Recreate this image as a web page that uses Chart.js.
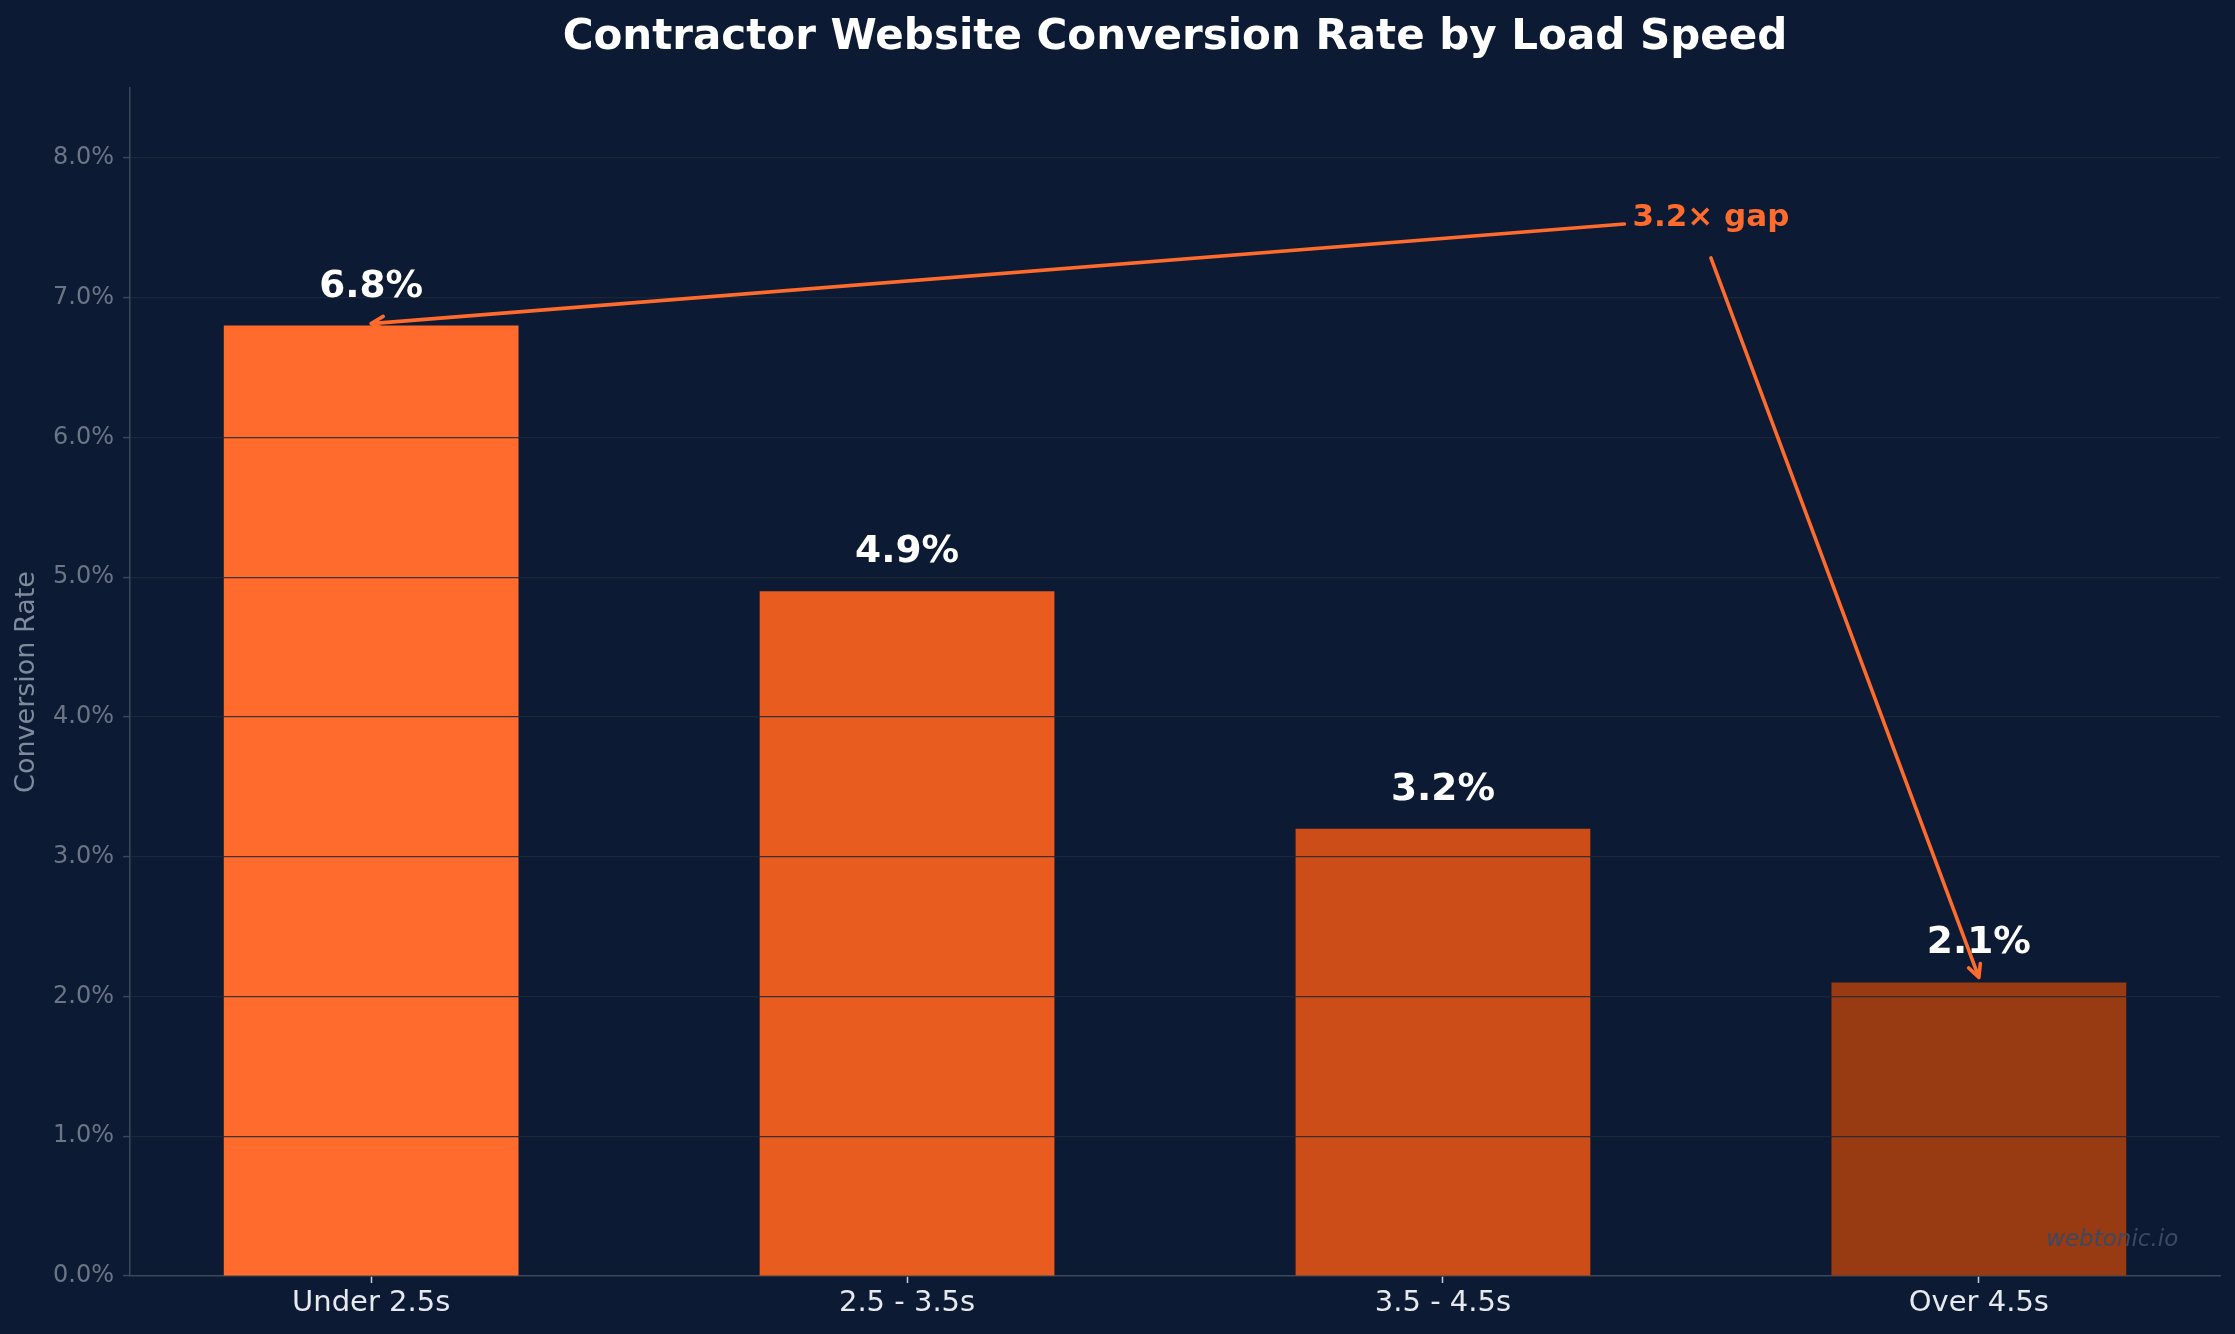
<!DOCTYPE html>
<html lang="en">
<head>
<meta charset="UTF-8">
<title>Contractor Website Conversion Rate by Load Speed</title>
<script src="https://cdn.jsdelivr.net/npm/chart.js@4.4.1/dist/chart.umd.min.js"></script>
<style>
    html, body {
        margin: 0;
        padding: 0;
        background: #0c1b33;
    }

    #wrap {
        width: 2235px;
        height: 1334px;
    }
</style>
</head>
<body>
<div id="wrap"><canvas id="chart"></canvas></div>

<script>
    // data
    const categories = ['Under 2.5s', '2.5 - 3.5s', '3.5 - 4.5s', 'Over 4.5s'];
    const conversionRates = [6.8, 4.9, 3.2, 2.1];
    const yTicks = [0, 1, 2, 3, 4, 5, 6, 7, 8];
    const gapLabel = '3.2× gap';
    const gapLabelAt = [2.5, 7.57];   // data coords of the annotation text
    const gapTargets = [0, 3];        // bars the arrows point to

    const barColors = ['#ff6b2c', '#e85c20', '#cc4d17', '#983a12'];
    const FONT = "'DejaVu Sans', sans-serif";
    const BG = '#0c1b33';
    const AXIS = '#3b4658';
    const ACCENT = '#ff6b2c';

    function drawArrow(ctx, x1, y1, x2, y2) {
        const ang = Math.atan2(y2 - y1, x2 - x1);
        const len = 14, spread = 0.46;
        ctx.beginPath();
        ctx.moveTo(x1, y1);
        ctx.lineTo(x2, y2);
        ctx.moveTo(x2 - len * Math.cos(ang - spread), y2 - len * Math.sin(ang - spread));
        ctx.lineTo(x2, y2);
        ctx.lineTo(x2 - len * Math.cos(ang + spread), y2 - len * Math.sin(ang + spread));
        ctx.stroke();
    }

    const background = {
        id: 'background',
        beforeDraw(chart) {
            const ctx = chart.ctx;
            ctx.save();
            ctx.fillStyle = BG;
            ctx.fillRect(0, 0, chart.width, chart.height);
            ctx.restore();
        }
    };

    const overlay = {
        id: 'overlay',
        afterDraw(chart) {
            const ctx = chart.ctx;
            const xs = chart.scales.x, ys = chart.scales.y;
            const area = chart.chartArea;
            ctx.save();

            // value labels above bars
            ctx.fillStyle = '#ffffff';
            ctx.font = `bold 37.5px ${FONT}`;
            ctx.textAlign = 'center';
            ctx.textBaseline = 'alphabetic';
            chart.getDatasetMeta(0).data.forEach((bar, i) => {
                ctx.fillText(conversionRates[i].toFixed(1) + '%', bar.x, bar.y - 29);
            });

            // gap annotation
            const tx = xs.getPixelForValue(gapLabelAt[0]);
            const ty = ys.getPixelForValue(gapLabelAt[1]);
            ctx.font = `bold 31px ${FONT}`;
            ctx.textBaseline = 'middle';
            ctx.fillStyle = ACCENT;
            ctx.fillText(gapLabel, tx, ty);
            const w = ctx.measureText(gapLabel).width;

            ctx.strokeStyle = ACCENT;
            ctx.lineWidth = 3.6;
            ctx.lineCap = 'round';
            ctx.lineJoin = 'round';
            const t0 = gapTargets[0], t1 = gapTargets[1];
            drawArrow(ctx, tx - w / 2 - 8, ty + 6,
                xs.getPixelForValue(t0), ys.getPixelForValue(conversionRates[t0]) - 2);
            drawArrow(ctx, tx, ty + 40,
                xs.getPixelForValue(t1), ys.getPixelForValue(conversionRates[t1]) - 5);

            // watermark
            ctx.font = `italic 23px ${FONT}`;
            ctx.fillStyle = '#3a4a62';
            ctx.textAlign = 'right';
            ctx.textBaseline = 'middle';
            ctx.fillText('webtonic.io',
                area.left + 0.98 * (area.right - area.left),
                area.bottom - 0.03 * (area.bottom - area.top));

            ctx.restore();
        }
    };

    new Chart(document.getElementById('chart'), {
        type: 'bar',
        data: {
            datasets: [{
                data: conversionRates.map((v, i) => ({ x: i, y: v })),
                backgroundColor: barColors,
                borderWidth: 0,
                barPercentage: 0.55,
                categoryPercentage: 1
            }]
        },
        options: {
            responsive: true,
            maintainAspectRatio: false,
            animation: false,
            layout: { padding: { left: 0, right: 15, top: 0, bottom: 0 } },
            plugins: {
                legend: { display: false },
                tooltip: { enabled: false },
                title: {
                    display: true,
                    fullSize: false,
                    text: 'Contractor Website Conversion Rate by Load Speed',
                    color: '#ffffff',
                    font: { family: FONT, size: 42, weight: 'bold' },
                    padding: { top: 13, bottom: 24.6 }
                }
            },
            scales: {
                x: {
                    type: 'linear',
                    min: -0.45,
                    max: 3.45,
                    offset: false,
                    afterBuildTicks: s => { s.ticks = categories.map((_, i) => ({ value: i })); },
                    afterFit: s => { s.height = 58; },
                    ticks: {
                        callback: v => categories[v],
                        color: '#e6e9ee',
                        font: { family: FONT, size: 29 },
                        padding: 3,
                        maxRotation: 0,
                        autoSkip: false
                    },
                    grid: {
                        offset: false,
                        drawOnChartArea: false,
                        drawTicks: true,
                        tickLength: 7,
                        tickColor: '#c8ced8',
                        tickWidth: 1.5
                    },
                    border: { color: AXIS, width: 1.5 }
                },
                y: {
                    min: 0,
                    max: 8.5,
                    afterBuildTicks: s => { s.ticks = yTicks.map(v => ({ value: v })); },
                    afterFit: s => { s.width = 130; },
                    ticks: {
                        callback: v => v.toFixed(1) + '%',
                        color: '#6b7585',
                        font: { family: FONT, size: 24 },
                        padding: 9
                    },
                    grid: {
                        z: 1,
                        color: c => (c.tick && c.tick.value === 0) ? 'rgba(0,0,0,0)' : 'rgba(30,41,59,0.85)',
                        lineWidth: 1.2,
                        tickLength: 7,
                        tickColor: AXIS,
                        tickWidth: 1.5
                    },
                    border: { color: AXIS, width: 1.5, z: 1 },
                    title: {
                        display: true,
                        text: 'Conversion Rate',
                        color: '#7f8a9b',
                        font: { family: FONT, size: 27 },
                        padding: { top: 11, bottom: 0 }
                    }
                }
            }
        },
        plugins: [background, overlay]
    });
</script>
</body>
</html>
